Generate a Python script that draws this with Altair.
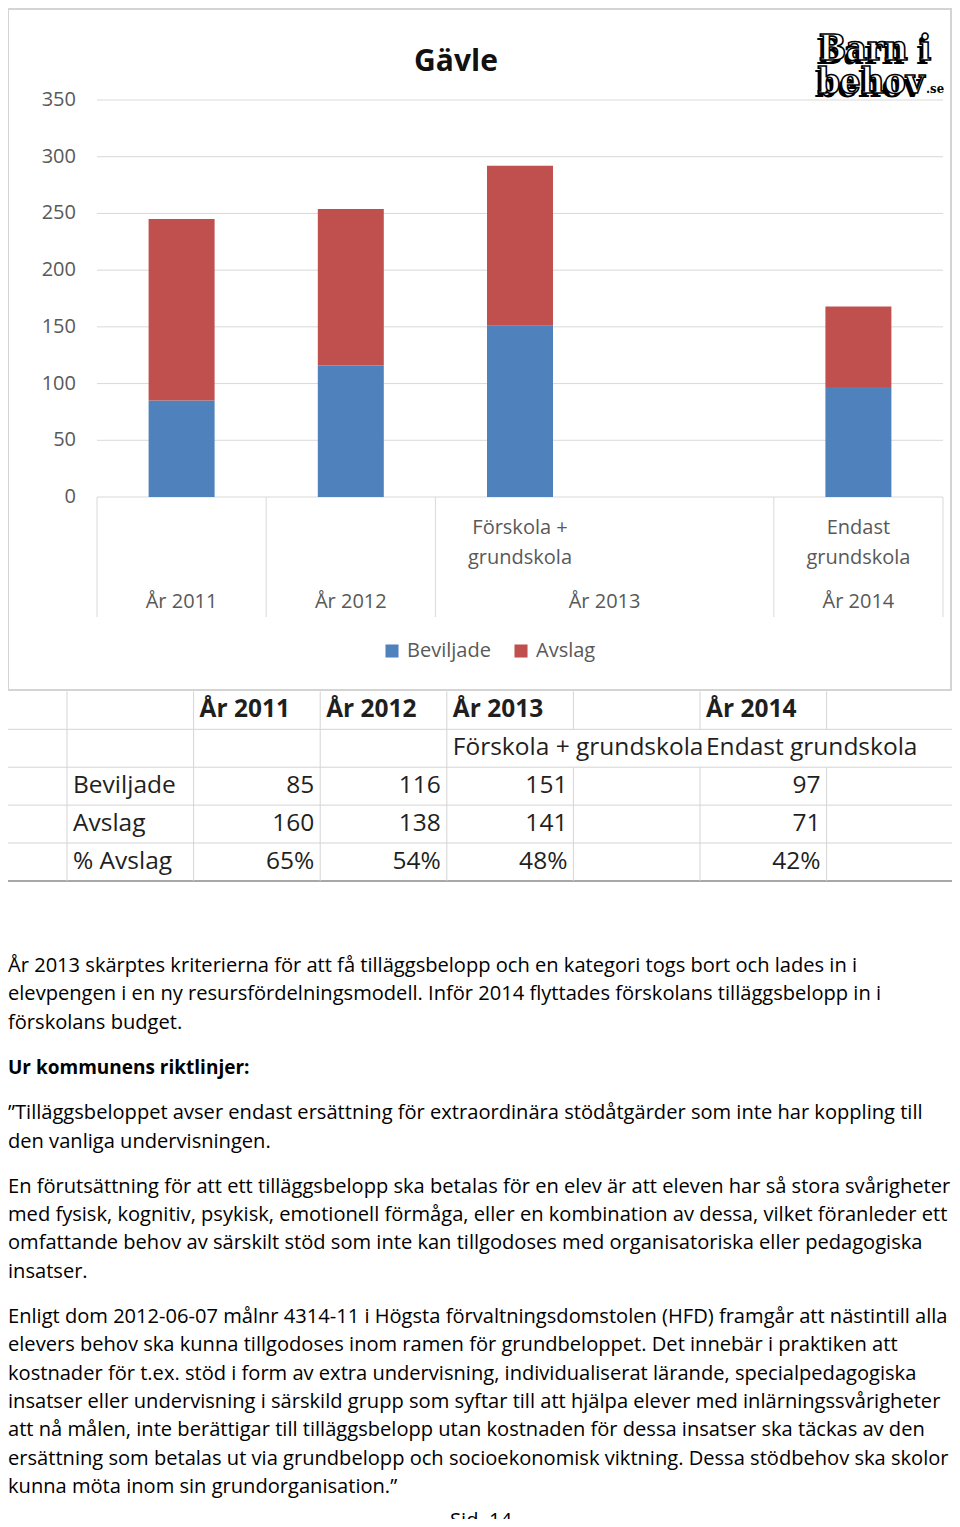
import altair as alt
import pandas as pd

# ---------------- data ----------------
title = "Gävle"
years = ["År 2011", "År 2012", "År 2013", "År 2014"]
beviljade = [85, 116, 151, 97]
avslag = [160, 138, 141, 71]
pct_avslag = ["65%", "54%", "48%", "42%"]
series = ["Beviljade", "Avslag"]
series_colors = ["#4F81BD", "#C0504D"]
# category columns of the chart (the Excel sheet keeps one empty column after År 2013)
x_categories = ["År 2011", "År 2012", "År 2013", " ", "År 2014"]
year_spans = [1, 1, 2, 1]
table_sub_labels = ["", "", "Förskola + grundskola", "Endast grundskola"]
axis_sub_labels = ["", "", "Förskola +\ngrundskola", "Endast\ngrundskola"]
y_ticks = [0, 50, 100, 150, 200, 250, 300, 350]
row_labels = ["Beviljade", "Avslag", "% Avslag"]

paragraphs = [
    (False, [
        "År 2013 skärptes kriterierna för att få tilläggsbelopp och en kategori togs bort och lades in i",
        "elevpengen i en ny resursfördelningsmodell. Inför 2014 flyttades förskolans tilläggsbelopp in i",
        "förskolans budget.",
    ]),
    (True, ["Ur kommunens riktlinjer:"]),
    (False, [
        "”Tilläggsbeloppet avser endast ersättning för extraordinära stödåtgärder som inte har koppling till",
        "den vanliga undervisningen.",
    ]),
    (False, [
        "En förutsättning för att ett tilläggsbelopp ska betalas för en elev är att eleven har så stora svårigheter",
        "med fysisk, kognitiv, psykisk, emotionell förmåga, eller en kombination av dessa, vilket föranleder ett",
        "omfattande behov av särskilt stöd som inte kan tillgodoses med organisatoriska eller pedagogiska",
        "insatser.",
    ]),
    (False, [
        "Enligt dom 2012-06-07 målnr 4314-11 i Högsta förvaltningsdomstolen (HFD) framgår att nästintill alla",
        "elevers behov ska kunna tillgodoses inom ramen för grundbeloppet. Det innebär i praktiken att",
        "kostnader för t.ex. stöd i form av extra undervisning, individualiserat lärande, specialpedagogiska",
        "insatser eller undervisning i särskild grupp som syftar till att hjälpa elever med inlärningssvårigheter",
        "att nå målen, inte berättigar till tilläggsbelopp utan kostnaden för dessa insatser ska täckas av den",
        "ersättning som betalas ut via grundbelopp och socioekonomisk viktning. Dessa stödbehov ska skolor",
        "kunna möta inom sin grundorganisation.”",
    ]),
]
footer = "Sid. 14"

# ---------------- layout (page pixels; view origin is at 8,8) ----------------
W, H = 944, 1511
OX, OY = 8, 8
def px(x): return x - OX
def py(y): return y - OY

FONT = "Open Sans"
GRID = "#D9D9D9"
LABEL = "#595959"
TXT = "#1F1F1F"
PLOT_L, PLOT_R = 97, 943
Y_ZERO, Y_TOP = 497, 100

band_scale = alt.Scale(domain=x_categories, range=[px(PLOT_L), px(PLOT_R)],
                       paddingInner=0.61, paddingOuter=0.305)
bound_scale = alt.Scale(domain=[0, len(x_categories)], range=[px(PLOT_L), px(PLOT_R)],
                        nice=False, zero=False)
y_scale = alt.Scale(domain=[0, 350], range=[py(Y_ZERO), py(Y_TOP)], nice=False, zero=False)

one = pd.DataFrame({"t": [""]})

layers = []

# chart frame
layers.append(alt.Chart(one).mark_rect(fill="white", stroke="#D4D4D4", strokeWidth=2).encode(
    x=alt.value(0), x2=alt.value(W - 1), y=alt.value(py(9)), y2=alt.value(py(690))))

# gridlines
grid_df = pd.DataFrame({"v": y_ticks})
layers.append(alt.Chart(grid_df).mark_rule(color=GRID, strokeWidth=1).encode(
    y=alt.Y("v:Q", scale=y_scale, axis=None),
    x=alt.value(px(PLOT_L)), x2=alt.value(px(PLOT_R))))
layers.append(alt.Chart(grid_df).mark_text(align="right", baseline="middle", font=FONT,
                                           fontSize=20, color=LABEL).encode(
    y=alt.Y("v:Q", scale=y_scale, axis=None), text="v:Q", x=alt.value(px(76))))

# bars
bar_rows = []
for i, yr in enumerate(years):
    bar_rows.append({"kat": yr, "serie": "Beviljade", "v": beviljade[i], "ord": 0})
    bar_rows.append({"kat": yr, "serie": "Avslag", "v": avslag[i], "ord": 1})
bars_df = pd.DataFrame(bar_rows)
layers.append(alt.Chart(bars_df).mark_bar().encode(
    x=alt.X("kat:N", scale=band_scale, axis=None),
    y=alt.Y("v:Q", stack="zero", scale=y_scale, axis=None),
    color=alt.Color("serie:N", scale=alt.Scale(domain=series, range=series_colors),
                    legend=alt.Legend(title=None, orient="none", legendX=px(382), legendY=py(641),
                                      direction="horizontal", symbolType="square", symbolSize=170,
                                      symbolStrokeWidth=0, labelFont=FONT, labelFontSize=20,
                                      labelColor=LABEL, columnPadding=20, labelOffset=5, padding=0)),
    order=alt.Order("ord:Q")))

# multi-level category axis
starts = [x_categories.index(y) for y in years]
sep_df = pd.DataFrame({"b": sorted(set(starts + [starts[-1] + year_spans[-1]]))})
layers.append(alt.Chart(sep_df).mark_rule(color=GRID, strokeWidth=1).encode(
    x=alt.X("b:Q", scale=bound_scale, axis=None),
    y=alt.value(py(Y_ZERO)), y2=alt.value(py(617))))
yl_df = pd.DataFrame({"t": years, "s": starts, "e": [s + n for s, n in zip(starts, year_spans)]})
layers.append(alt.Chart(yl_df).transform_calculate(m="(datum.s + datum.e) / 2").mark_text(
    align="center", baseline="middle", font=FONT, fontSize=20, color=LABEL).encode(
    x=alt.X("m:Q", scale=bound_scale, axis=None), y=alt.value(py(602)), text="t:N"))
sub_df = pd.DataFrame({"t": axis_sub_labels, "s": starts})
sub_df = sub_df[sub_df["t"] != ""]
layers.append(alt.Chart(sub_df).transform_calculate(m="datum.s + 0.5").mark_text(
    align="center", baseline="alphabetic", font=FONT, fontSize=20, color=LABEL,
    lineBreak="\n", lineHeight=30).encode(
    x=alt.X("m:Q", scale=bound_scale, axis=None), y=alt.value(py(534)), text="t:N"))

# title
layers.append(alt.Chart(pd.DataFrame({"t": [title]})).mark_text(
    align="center", baseline="middle", font=FONT, fontSize=30, fontWeight="bold", color="#111111").encode(
    x=alt.value(px(456)), y=alt.value(py(62)), text="t:N"))

# logo "Barn i behov.se"
logo_font = "DejaVu Serif Condensed, DejaVu Serif, serif"
for txt, x, y, fs in [("Barn i", 875, 60, 36), ("behov", 871, 93, 36)]:
    d = pd.DataFrame({"t": [txt]})
    layers.append(alt.Chart(d).mark_text(align="center", baseline="alphabetic", font=logo_font,
                                         fontSize=fs, fontWeight="bold", color="black").encode(
        x=alt.value(px(x) - 3), y=alt.value(py(y) + 4), text="t:N"))
    layers.append(alt.Chart(d).mark_text(align="center", baseline="alphabetic", font=logo_font,
                                         fontSize=fs, fontWeight="bold", color="white",
                                         stroke="black", strokeWidth=1.6).encode(
        x=alt.value(px(x)), y=alt.value(py(y)), text="t:N"))
layers.append(alt.Chart(pd.DataFrame({"t": [".se"]})).mark_text(
    align="left", baseline="alphabetic", font=logo_font, fontSize=13, fontWeight="bold", color="black").encode(
    x=alt.value(px(926)), y=alt.value(py(93)), text="t:N"))

# ---------------- table ----------------
T_TOP, T_ROW = 691.4, 37.9
col_scale = alt.Scale(domain=[0, 7], range=[px(67), px(67 + 7 * 126.6)], nice=False, zero=False)
row_scale = alt.Scale(domain=[0, 5], range=[py(T_TOP), py(T_TOP + 5 * T_ROW)], nice=False, zero=False)
tcols = [1 + x_categories.index(y) for y in years]

hl = pd.DataFrame({"r": [1, 2, 3, 4]})
layers.append(alt.Chart(hl).mark_rule(color="#D4D4D4", strokeWidth=1).encode(
    y=alt.Y("r:Q", scale=row_scale, axis=None), x=alt.value(0), x2=alt.value(W)))
layers.append(alt.Chart(pd.DataFrame({"r": [5]})).mark_rule(color="#A8A8A8", strokeWidth=2).encode(
    y=alt.Y("r:Q", scale=row_scale, axis=None), x=alt.value(0), x2=alt.value(W)))
vl_rows = []
for r in range(5):
    for c in range(7):
        if r == 1 and c > 3:
            continue
        vl_rows.append({"c": c, "r0": r, "r1": r + 1})
layers.append(alt.Chart(pd.DataFrame(vl_rows)).mark_rule(color="#D4D4D4", strokeWidth=1).encode(
    x=alt.X("c:Q", scale=col_scale, axis=None),
    y=alt.Y("r0:Q", scale=row_scale, axis=None), y2="r1:Q"))

left_cells, bold_cells, right_cells = [], [], []
for i, yr in enumerate(years):
    bold_cells.append({"t": yr, "c": tcols[i], "r": 0.5})
    if table_sub_labels[i]:
        left_cells.append({"t": table_sub_labels[i], "c": tcols[i], "r": 1.5})
    for k, val in enumerate([str(beviljade[i]), str(avslag[i]), pct_avslag[i]]):
        right_cells.append({"t": val, "c": tcols[i] + 1, "r": 2.5 + k})
for k, lab in enumerate(row_labels):
    left_cells.append({"t": lab, "c": 0, "r": 2.5 + k})

for cells, align, dx, weight in [(bold_cells, "left", 6, "bold"), (left_cells, "left", 6, "normal"),
                                 (right_cells, "right", -6, "normal")]:
    layers.append(alt.Chart(pd.DataFrame(cells)).mark_text(
        align=align, baseline="middle", dx=dx, font=FONT, fontSize=24.5, fontWeight=weight,
        color=TXT).encode(
        x=alt.X("c:Q", scale=col_scale, axis=None),
        y=alt.Y("r:Q", scale=row_scale, axis=None), text="t:N"))

# ---------------- body text ----------------
LINE_H, PARA_GAP, BODY_TOP = 28.3, 17, 966
body_rows = []
yy = BODY_TOP
for bold, lines in paragraphs:
    for ln in lines:
        body_rows.append({"t": ln, "y": py(yy), "bold": bold})
        yy += LINE_H
    yy += PARA_GAP
body_df = pd.DataFrame(body_rows)
for bold in [False, True]:
    d = body_df[body_df["bold"] == bold]
    layers.append(alt.Chart(d).mark_text(
        align="left", baseline="middle", font=FONT, fontSize=19.0 if bold else 20.1,
        fontWeight="bold" if bold else "normal", color="black").encode(
        x=alt.value(0), y=alt.Y("y:Q", scale=None, axis=None), text="t:N"))

layers.append(alt.Chart(pd.DataFrame({"t": [footer]})).mark_text(
    align="center", baseline="middle", font=FONT, fontSize=20.1, color="black").encode(
    x=alt.value(px(481)), y=alt.value(py(1521)), text="t:N"))

chart = alt.layer(*layers).resolve_scale(
    x="independent", y="independent"
).properties(
    width=W, height=H, autosize=alt.AutoSizeParams(type="none"), padding=0,
    background="white"
).configure_view(stroke=None)

chart.save("out.html", embed_options={"renderer": "svg", "actions": False})
